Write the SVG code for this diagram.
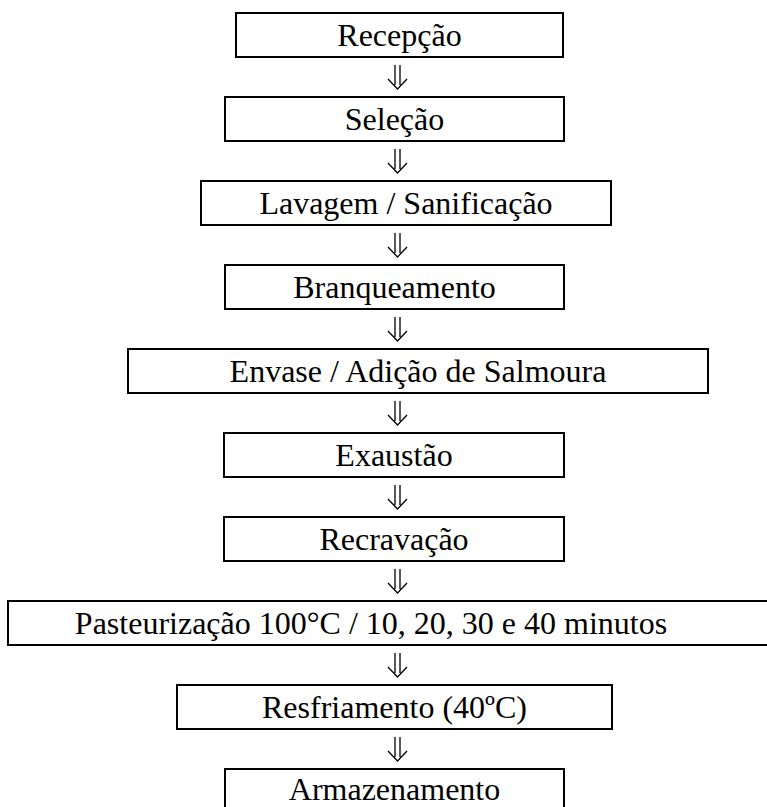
<svg xmlns="http://www.w3.org/2000/svg" width="767" height="807" viewBox="0 0 767 807">
<style>
.box{fill:#fff;stroke:#000;stroke-width:2}
.lbl{font-family:'Liberation Serif','Times New Roman','DejaVu Serif',serif;font-size:32px;fill:#000;text-anchor:middle}
.arr{fill:none;stroke:#000;stroke-width:1.3}
</style>
<rect width="767" height="807" fill="#fff"/>
<g font-family="Liberation Serif, Times New Roman, serif">
<g id="n1"><rect class="box" x="236" y="13" width="327" height="44"/><text class="lbl" x="399.5" y="46">Recepção</text></g>
<g id="n2"><rect class="box" x="225" y="97" width="339" height="44"/><text class="lbl" x="394.5" y="130">Seleção</text></g>
<g id="n3"><rect class="box" x="201" y="181" width="410" height="44"/><text class="lbl" x="406" y="214">Lavagem / Sanificação</text></g>
<g id="n4"><rect class="box" x="225" y="265" width="339" height="44"/><text class="lbl" x="394.5" y="298">Branqueamento</text></g>
<g id="n5"><rect class="box" x="128" y="349" width="580" height="44"/><text class="lbl" x="418" y="382">Envase / Adição de Salmoura</text></g>
<g id="n6"><rect class="box" x="224" y="433" width="340" height="44"/><text class="lbl" x="394" y="466">Exaustão</text></g>
<g id="n7"><rect class="box" x="224" y="517" width="340" height="44"/><text class="lbl" x="394" y="550">Recravação</text></g>
<g id="n8"><rect class="box" x="8" y="601" width="780" height="44"/><text class="lbl" x="371" y="634">Pasteurização 100°C / 10, 20, 30 e 40 minutos</text></g>
<g id="n9"><rect class="box" x="177" y="685" width="435" height="44"/><text class="lbl" x="394.5" y="718">Resfriamento (40ºC)</text></g>
<g id="n10"><rect class="box" x="225" y="769" width="339" height="44"/><text class="lbl" x="394.5" y="800">Armazenamento</text></g>
</g>
<g id="connectors">
<path class="arr" d="M395,65V85M400,65V85M388,79L397.5,89L407,79"/>
<path class="arr" d="M395,149V169M400,149V169M388,163L397.5,173L407,163"/>
<path class="arr" d="M395,233V253M400,233V253M388,247L397.5,257L407,247"/>
<path class="arr" d="M395,317V337M400,317V337M388,331L397.5,341L407,331"/>
<path class="arr" d="M395,401V421M400,401V421M388,415L397.5,425L407,415"/>
<path class="arr" d="M395,485V505M400,485V505M388,499L397.5,509L407,499"/>
<path class="arr" d="M395,569V589M400,569V589M388,583L397.5,593L407,583"/>
<path class="arr" d="M395,653V673M400,653V673M388,667L397.5,677L407,667"/>
<path class="arr" d="M395,737V757M400,737V757M388,751L397.5,761L407,751"/>
</g>
</svg>
